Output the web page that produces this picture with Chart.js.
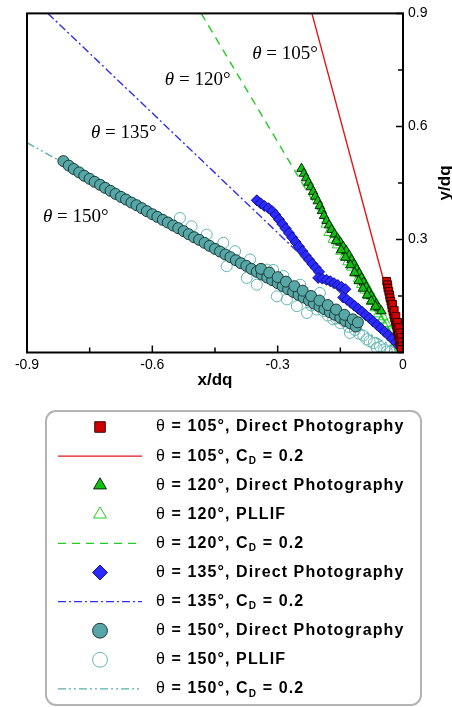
<!DOCTYPE html>
<html lang="en">
<head>
<meta charset="UTF-8">
<title>Trajetórias do jato</title>
<script src="https://cdn.jsdelivr.net/npm/chart.js"></script>
<style>
  body { margin: 0; background: #fff; }
  #caixa { width: 452px; height: 707px; }
</style>
</head>
<body>
<div id="caixa"><canvas id="trajetorias"></canvas></div>
<script>
// pontos medidos [x/dq, y/dq]
const dp105 = [
  [-0.039, 0.189], [-0.037, 0.180], [-0.036, 0.171], [-0.034, 0.162], [-0.032, 0.153],
  [-0.031, 0.145], [-0.029, 0.136], [-0.027, 0.127], [-0.026, 0.118], [-0.024, 0.109],
  [-0.022, 0.100], [-0.020, 0.091], [-0.018, 0.082], [-0.016, 0.073], [-0.014, 0.064],
  [-0.013, 0.055], [-0.011, 0.046], [-0.009, 0.037], [-0.008, 0.028], [-0.006, 0.019],
  [-0.025, 0.128], [-0.021, 0.112], [-0.017, 0.096], [-0.013, 0.080], [-0.010, 0.066],
  [-0.007, 0.052], [-0.004, 0.040], [-0.003, 0.028], [-0.002, 0.016], [-0.004, 0.008]
];

const dp120 = [
  [-0.243, 0.488], [-0.237, 0.475], [-0.232, 0.463], [-0.226, 0.451], [-0.221, 0.439],
  [-0.215, 0.427], [-0.210, 0.414], [-0.204, 0.402], [-0.199, 0.389], [-0.194, 0.376],
  [-0.189, 0.363], [-0.183, 0.350], [-0.177, 0.338], [-0.171, 0.326], [-0.164, 0.314],
  [-0.157, 0.303], [-0.150, 0.292], [-0.143, 0.281], [-0.136, 0.270], [-0.129, 0.258],
  [-0.123, 0.246], [-0.117, 0.234], [-0.111, 0.222], [-0.105, 0.210], [-0.099, 0.198],
  [-0.094, 0.186], [-0.088, 0.174], [-0.082, 0.162], [-0.076, 0.150], [-0.070, 0.139],
  [-0.064, 0.128], [-0.058, 0.118], [-0.052, 0.110],
  [-0.160, 0.296], [-0.148, 0.272], [-0.138, 0.252], [-0.126, 0.232], [-0.116, 0.212],
  [-0.106, 0.190], [-0.096, 0.170], [-0.086, 0.152], [-0.076, 0.136], [-0.066, 0.122]
];

const pl120 = [
  [-0.185, 0.340], [-0.178, 0.318], [-0.172, 0.330], [-0.168, 0.300], [-0.163, 0.312],
  [-0.158, 0.285], [-0.152, 0.296], [-0.150, 0.268], [-0.145, 0.280], [-0.141, 0.255],
  [-0.136, 0.266], [-0.133, 0.240], [-0.128, 0.252], [-0.124, 0.226], [-0.119, 0.238],
  [-0.116, 0.210], [-0.111, 0.222], [-0.108, 0.195], [-0.103, 0.206], [-0.100, 0.180],
  [-0.095, 0.192], [-0.092, 0.165], [-0.087, 0.176], [-0.084, 0.150], [-0.079, 0.160],
  [-0.076, 0.135], [-0.071, 0.144], [-0.068, 0.118], [-0.063, 0.128], [-0.060, 0.102],
  [-0.055, 0.110], [-0.052, 0.086], [-0.047, 0.094], [-0.044, 0.070], [-0.039, 0.076],
  [-0.036, 0.054], [-0.031, 0.058], [-0.027, 0.040], [-0.022, 0.042], [-0.018, 0.026],
  [-0.014, 0.028], [-0.010, 0.014], [-0.006, 0.008]
];

const dp135 = [
  [-0.350, 0.404], [-0.341, 0.396], [-0.332, 0.389], [-0.322, 0.383], [-0.313, 0.375],
  [-0.305, 0.365], [-0.297, 0.353], [-0.289, 0.341], [-0.281, 0.329], [-0.273, 0.317],
  [-0.265, 0.305], [-0.257, 0.293], [-0.249, 0.281], [-0.241, 0.269], [-0.233, 0.257],
  [-0.225, 0.246], [-0.217, 0.235], [-0.209, 0.225], [-0.201, 0.214],
  [-0.203, 0.198], [-0.193, 0.196], [-0.183, 0.193], [-0.174, 0.189], [-0.165, 0.184],
  [-0.156, 0.179], [-0.147, 0.174], [-0.138, 0.168],
  [-0.143, 0.146], [-0.134, 0.140], [-0.125, 0.132], [-0.116, 0.124], [-0.107, 0.116],
  [-0.098, 0.108], [-0.089, 0.099], [-0.080, 0.091], [-0.071, 0.082], [-0.062, 0.073],
  [-0.053, 0.064], [-0.044, 0.055], [-0.035, 0.046], [-0.026, 0.036], [-0.017, 0.027],
  [-0.010, 0.018]
];

const dp150 = [
  [-0.813, 0.508], [-0.800, 0.496], [-0.788, 0.487], [-0.775, 0.478], [-0.763, 0.469],
  [-0.750, 0.461], [-0.738, 0.453], [-0.725, 0.445], [-0.713, 0.437], [-0.700, 0.429],
  [-0.688, 0.421], [-0.675, 0.413], [-0.663, 0.406], [-0.650, 0.398], [-0.638, 0.391],
  [-0.625, 0.383], [-0.613, 0.375], [-0.600, 0.367], [-0.588, 0.360], [-0.575, 0.352],
  [-0.563, 0.345], [-0.550, 0.337], [-0.538, 0.330], [-0.525, 0.322], [-0.513, 0.314],
  [-0.500, 0.306], [-0.488, 0.299], [-0.475, 0.291], [-0.463, 0.283], [-0.450, 0.275],
  [-0.438, 0.268], [-0.425, 0.260], [-0.413, 0.253], [-0.400, 0.245], [-0.388, 0.237],
  [-0.375, 0.230], [-0.363, 0.222], [-0.350, 0.214], [-0.338, 0.207], [-0.325, 0.199],
  [-0.313, 0.192], [-0.300, 0.184], [-0.288, 0.176], [-0.275, 0.168], [-0.263, 0.161],
  [-0.250, 0.153], [-0.238, 0.146], [-0.225, 0.138], [-0.213, 0.130], [-0.200, 0.122],
  [-0.188, 0.115], [-0.175, 0.107], [-0.163, 0.100], [-0.150, 0.092], [-0.138, 0.084],
  [-0.125, 0.077], [-0.113, 0.069],
  [-0.340, 0.222], [-0.320, 0.212], [-0.300, 0.200], [-0.280, 0.188], [-0.260, 0.176],
  [-0.240, 0.164], [-0.220, 0.150], [-0.200, 0.138], [-0.180, 0.126], [-0.160, 0.114],
  [-0.140, 0.100], [-0.120, 0.088], [-0.108, 0.080]
];

const pl150 = [
  [-0.534, 0.357], [-0.506, 0.335], [-0.470, 0.313], [-0.430, 0.291], [-0.402, 0.269],
  [-0.422, 0.229], [-0.366, 0.247], [-0.374, 0.198], [-0.326, 0.220], [-0.350, 0.180],
  [-0.311, 0.219], [-0.286, 0.203], [-0.246, 0.180], [-0.302, 0.149], [-0.278, 0.141],
  [-0.254, 0.123], [-0.230, 0.105], [-0.199, 0.158], [-0.206, 0.114], [-0.220, 0.125],
  [-0.190, 0.110], [-0.180, 0.098], [-0.167, 0.088], [-0.160, 0.090], [-0.150, 0.078],
  [-0.140, 0.082], [-0.130, 0.068], [-0.127, 0.052], [-0.115, 0.060], [-0.105, 0.050],
  [-0.095, 0.045], [-0.087, 0.035], [-0.080, 0.030], [-0.070, 0.025], [-0.063, 0.012],
  [-0.055, 0.015], [-0.045, 0.008], [-0.039, 0.003], [-0.030, 0.002], [-0.020, 0.000]
];

// curvas do modelo com C_D = 0.2
const cd105 = [[-0.218, 0.9], [0, 0]];
const cd120 = [[-0.483, 0.9], [0, 0]];
const cd135 = [[-0.850, 0.9], [0, 0]];
const cd150 = [[-0.900, 0.557], [0, 0]];

// marcas dos eixos
const xLabels = [-0.9, -0.6, -0.3, 0];
const yLabels = [0.3, 0.6, 0.9];

const legendLabels = [
  'θ = 105°, Direct Photography',
  'θ = 105°, C_D = 0.2',
  'θ = 120°, Direct Photography',
  'θ = 120°, PLLIF',
  'θ = 120°, C_D = 0.2',
  'θ = 135°, Direct Photography',
  'θ = 135°, C_D = 0.2',
  'θ = 150°, Direct Photography',
  'θ = 150°, PLLIF',
  'θ = 150°, C_D = 0.2'
];

const angleNotes = ['105°', '120°', '135°', '150°'];

const toXY = arr => arr.map(([x, y]) => ({ x, y }));

const marks = (label, data, style, radius, fill, stroke, order) => ({
  label, data: toXY(data), showLine: false,
  pointStyle: style, pointRadius: radius, pointHoverRadius: radius,
  backgroundColor: fill, borderColor: stroke, pointBorderWidth: 1, order
});

const line = (label, data, color, dash) => ({
  label, data: toXY(data), showLine: true, pointRadius: 0,
  borderColor: color, backgroundColor: color, borderWidth: 1.4,
  borderDash: dash, fill: false, order: 3
});

const datasets = [
  marks(legendLabels[0], dp105, 'rect', 5.5, '#d00000', '#3c0000', 1),
  line(legendLabels[1], cd105, '#e01818', []),
  marks(legendLabels[2], dp120, 'triangle', 5.5, '#10c010', '#0a2a0a', 1),
  marks(legendLabels[3], pl120, 'triangle', 5.5, 'rgba(0,0,0,0)', '#22d022', 2),
  line(legendLabels[4], cd120, '#22cc22', [8, 6]),
  marks(legendLabels[5], dp135, 'rectRot', 5.5, '#2a2aff', '#10108a', 1),
  line(legendLabels[6], cd135, '#3030f0', [8, 3, 2, 3]),
  marks(legendLabels[7], dp150, 'circle', 5.5, '#56a7a5', '#1d3b3b', 1),
  marks(legendLabels[8], pl150, 'circle', 5.5, 'rgba(0,0,0,0)', '#62b6b4', 2),
  line(legendLabels[9], cd150, '#5aaeaa', [8, 3, 2, 3, 2, 3])
];

const isLabelled = (list, v) => list.some(t => Math.abs(t - v) < 1e-9);
const fmt = v => Math.abs(v) < 1e-9 ? '0' : v.toFixed(1);

// moldura, marcas internas, anotações, títulos e legenda
const extras = {
  id: 'extras',
  afterDraw(chart) {
    const ctx = chart.ctx;
    const a = chart.chartArea;
    const sx = chart.scales.x, sy = chart.scales.y;
    ctx.save();

    ctx.strokeStyle = '#000';
    ctx.lineWidth = 1.5;
    ctx.beginPath();
    sx.ticks.forEach(t => {
      const px = sx.getPixelForValue(t.value);
      const len = isLabelled(xLabels, t.value) ? 7 : 5;
      ctx.moveTo(px, a.bottom); ctx.lineTo(px, a.bottom - len);
    });
    sy.ticks.forEach(t => {
      const py = sy.getPixelForValue(t.value);
      const len = isLabelled(yLabels, t.value) ? 7 : 5;
      ctx.moveTo(a.right, py); ctx.lineTo(a.right - len, py);
    });
    ctx.stroke();
    ctx.lineWidth = 2;
    ctx.strokeRect(a.left, a.top, a.right - a.left, a.bottom - a.top);

    // rótulos dos ângulos junto das curvas
    const notePos = [[-0.361, 0.778], [-0.570, 0.710], [-0.747, 0.569], [-0.862, 0.346]];
    ctx.fillStyle = '#000';
    ctx.textBaseline = 'alphabetic';
    ctx.textAlign = 'left';
    angleNotes.forEach((txt, i) => {
      let px = sx.getPixelForValue(notePos[i][0]);
      const py = sy.getPixelForValue(notePos[i][1]);
      ctx.font = 'italic 19px "Liberation Serif"';
      ctx.fillText('θ', px, py);
      px += ctx.measureText('θ').width;
      ctx.font = '19px "Liberation Serif"';
      ctx.fillText(' = ' + txt, px, py);
    });

    // títulos dos eixos
    ctx.font = 'bold 17px "Liberation Sans"';
    ctx.textAlign = 'center';
    ctx.fillText('x/dq', (a.left + a.right) / 2, 385);
    ctx.save();
    ctx.translate(445, (a.top + a.bottom) / 2);
    ctx.rotate(-Math.PI / 2);
    ctx.textBaseline = 'middle';
    ctx.fillText('y/dq', 0, 0);
    ctx.restore();

    // legenda
    ctx.strokeStyle = '#b4b4b4';
    ctx.lineWidth = 2;
    ctx.beginPath();
    ctx.roundRect(46, 411, 375, 294, 10);
    ctx.stroke();

    chart.data.datasets.forEach((ds, i) => {
      const cy = 427 + i * 29.1;
      if (ds.showLine) {
        ctx.strokeStyle = ds.borderColor;
        ctx.lineWidth = 1.4;
        ctx.setLineDash(ds.borderDash);
        ctx.beginPath();
        ctx.moveTo(58, cy); ctx.lineTo(142, cy);
        ctx.stroke();
        ctx.setLineDash([]);
      } else {
        ctx.fillStyle = ds.backgroundColor;
        ctx.strokeStyle = ds.borderColor;
        ctx.lineWidth = 1;
        Chart.helpers.drawPoint(ctx, {
          pointStyle: ds.pointStyle, radius: ds.pointRadius * 1.35,
          rotation: 0, borderWidth: 1
        }, 100, cy);
      }
      drawLegendText(ctx, ds.label, 156, cy);
    });
    ctx.restore();
  }
};

function drawLegendText(ctx, text, x, y) {
  ctx.fillStyle = '#000';
  ctx.textAlign = 'left';
  ctx.textBaseline = 'middle';
  ctx.letterSpacing = '1.1px';
  ctx.font = '16px "Liberation Sans"';
  ctx.fillText(text[0], x, y);
  x += ctx.measureText(text[0]).width;
  const parts = text.slice(1).split('_D');
  ctx.font = 'bold 16px "Liberation Sans"';
  ctx.fillText(parts[0], x, y);
  x += ctx.measureText(parts[0]).width;
  if (parts.length > 1) {
    ctx.font = 'bold 10px "Liberation Sans"';
    ctx.fillText('D', x, y + 5);
    x += ctx.measureText('D').width;
    ctx.font = 'bold 16px "Liberation Sans"';
    ctx.fillText(parts[1], x, y);
  }
  ctx.letterSpacing = '0px';
}

const tickFont = { family: 'Liberation Sans', size: 14 };

new Chart(document.getElementById('trajetorias'), {
  type: 'scatter',
  data: { datasets },
  options: {
    responsive: true,
    maintainAspectRatio: false,
    animation: false,
    layout: { padding: { left: 27, top: 13.3, right: 0, bottom: 329.5 } },
    plugins: { legend: { display: false }, tooltip: { enabled: false } },
    scales: {
      x: {
        type: 'linear', position: 'bottom', min: -0.9, max: 0,
        afterFit: s => { s.height = 25; },
        grid: { display: false, drawTicks: false },
        border: { display: false },
        ticks: {
          stepSize: 0.15, autoSkip: false, maxRotation: 0, padding: 4,
          color: '#000', font: tickFont,
          callback: v => isLabelled(xLabels, v) ? fmt(v) : ''
        }
      },
      y: {
        type: 'linear', position: 'right', min: 0, max: 0.9,
        afterFit: s => { s.width = 49; },
        grid: { display: false, drawTicks: false },
        border: { display: false },
        ticks: {
          stepSize: 0.15, autoSkip: false, padding: 5,
          color: '#000', font: tickFont,
          callback: v => isLabelled(yLabels, v) ? fmt(v) : ''
        }
      }
    }
  },
  plugins: [extras]
});
</script>
</body>
</html>
